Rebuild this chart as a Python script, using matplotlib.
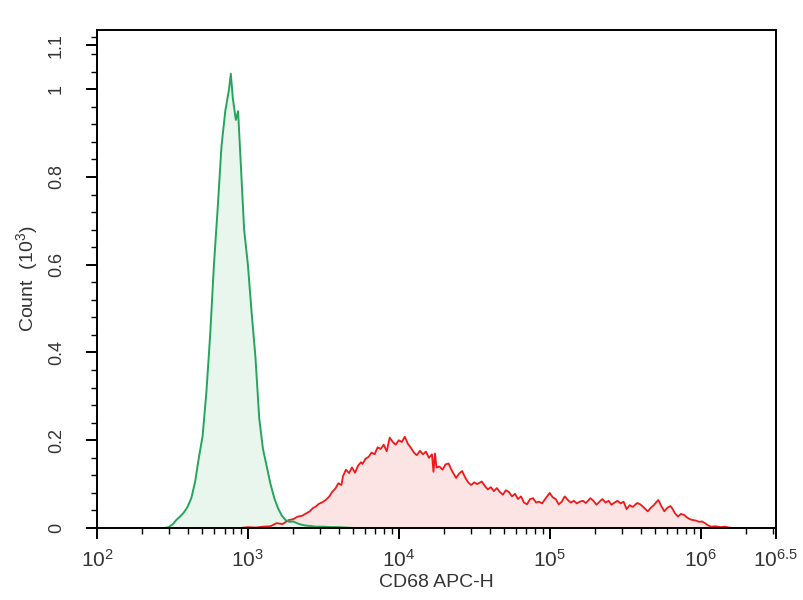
import numpy as np
import matplotlib.pyplot as plt
from matplotlib.ticker import FixedLocator, NullFormatter, MultipleLocator

plt.rcParams['font.family'] = ['Liberation Sans', 'DejaVu Sans']
plt.rcParams['mathtext.fontset'] = 'custom'
plt.rcParams['mathtext.rm'] = 'Liberation Sans'
plt.rcParams['mathtext.it'] = 'Liberation Sans:italic'

# isotype control (green), log10 of channel value vs count (x1000)
green_log = [2.45, 2.475, 2.50, 2.525, 2.55, 2.575, 2.60, 2.625, 2.65, 2.675,
             2.70, 2.725, 2.75, 2.775, 2.80, 2.825, 2.85, 2.875, 2.887, 2.90,
             2.92, 2.935, 2.95, 2.975, 3.00, 3.025, 3.05, 3.075, 3.10, 3.125,
             3.15, 3.175, 3.20, 3.225, 3.25, 3.275, 3.30, 3.325, 3.35, 3.375,
             3.40, 3.45, 3.50, 3.55, 3.60, 3.65, 3.70]
green_val = [0.0, 0.002, 0.008, 0.018, 0.026, 0.035, 0.048, 0.068, 0.105, 0.16,
             0.21, 0.31, 0.44, 0.60, 0.73, 0.87, 0.95, 1.00, 1.035, 0.98,
             0.93, 0.95, 0.85, 0.68, 0.60, 0.49, 0.39, 0.25, 0.18, 0.14,
             0.10, 0.068, 0.045, 0.028, 0.018, 0.014, 0.015, 0.011, 0.008, 0.006,
             0.005, 0.003, 0.003, 0.002, 0.002, 0.001, 0.0]

# CD68 stained sample (red)
red_log = [2.95, 3.00, 3.05, 3.10, 3.15, 3.19, 3.23, 3.27, 3.30, 3.33,
           3.36, 3.39, 3.41, 3.43, 3.45, 3.47, 3.49, 3.52, 3.54, 3.56,
           3.58, 3.60, 3.62, 3.63, 3.65, 3.67, 3.69, 3.71, 3.73, 3.75,
           3.76, 3.78, 3.80, 3.82, 3.84, 3.86, 3.88, 3.90, 3.92, 3.94,
           3.96, 3.98, 4.00, 4.02, 4.04, 4.06, 4.08, 4.10, 4.12, 4.14,
           4.16, 4.18, 4.20, 4.22, 4.23, 4.24, 4.25, 4.27, 4.29, 4.31,
           4.33, 4.35, 4.37, 4.38, 4.40, 4.42, 4.44, 4.46, 4.48, 4.50,
           4.52, 4.55, 4.57, 4.59, 4.61, 4.63, 4.65, 4.67, 4.69, 4.71,
           4.73, 4.75, 4.77, 4.79, 4.81, 4.83, 4.85, 4.87, 4.89, 4.91,
           4.93, 4.95, 4.97, 5.00, 5.02, 5.04, 5.06, 5.08, 5.10, 5.12,
           5.14, 5.16, 5.18, 5.20, 5.22, 5.24, 5.27, 5.29, 5.31, 5.33,
           5.35, 5.37, 5.39, 5.41, 5.43, 5.45, 5.47, 5.49, 5.51, 5.53,
           5.55, 5.58, 5.60, 5.62, 5.65, 5.67, 5.69, 5.71, 5.72, 5.74,
           5.76, 5.78, 5.80, 5.81, 5.83, 5.85, 5.87, 5.89, 5.91, 5.93,
           5.95, 5.97, 5.99, 6.01, 6.03, 6.05, 6.07, 6.10, 6.13, 6.16,
           6.19, 6.22]
red_val = [0.0, 0.002, 0.001, 0.003, 0.004, 0.011, 0.009, 0.018, 0.020, 0.026,
           0.028, 0.034, 0.038, 0.045, 0.049, 0.055, 0.058, 0.065, 0.072, 0.083,
           0.090, 0.102, 0.098, 0.118, 0.133, 0.125, 0.138, 0.126, 0.142, 0.150,
           0.146, 0.158, 0.162, 0.172, 0.168, 0.184, 0.180, 0.190, 0.175, 0.206,
           0.196, 0.190, 0.200, 0.196, 0.208, 0.192, 0.183, 0.172, 0.166, 0.176,
           0.168, 0.174, 0.160, 0.168, 0.128, 0.170, 0.138, 0.140, 0.133, 0.145,
           0.147, 0.132, 0.120, 0.114, 0.124, 0.130, 0.115, 0.104, 0.098, 0.104,
           0.100, 0.106, 0.096, 0.088, 0.093, 0.084, 0.091, 0.082, 0.076, 0.086,
           0.082, 0.072, 0.078, 0.066, 0.072, 0.058, 0.054, 0.066, 0.068, 0.058,
           0.060, 0.056, 0.066, 0.080, 0.070, 0.066, 0.054, 0.060, 0.072, 0.064,
           0.058, 0.062, 0.056, 0.060, 0.062, 0.057, 0.068, 0.062, 0.053, 0.060,
           0.066, 0.058, 0.062, 0.053, 0.058, 0.062, 0.056, 0.060, 0.043, 0.052,
           0.048, 0.057, 0.054, 0.048, 0.038, 0.046, 0.052, 0.060, 0.064, 0.050,
           0.038, 0.046, 0.050, 0.046, 0.034, 0.026, 0.032, 0.030, 0.024, 0.020,
           0.018, 0.017, 0.014, 0.015, 0.011, 0.006, 0.003, 0.004, 0.002, 0.003,
           0.001, 0.0]

xtick_exp = [2, 3, 4, 5, 6, 6.5]
xtick_labels = ['2', '3', '4', '5', '6', '6.5']
ytick_vals = [0, 0.2, 0.4, 0.6, 0.8, 1, 1.1]
ytick_labels = ['0', '0.2', '0.4', '0.6', '0.8', '1', '1.1']

fig = plt.figure(figsize=(8.04, 6), dpi=100)
ax = fig.add_axes([97 / 804, 72 / 600, 679 / 804, 498 / 600])

gx = 10 ** np.array(green_log)
rx = 10 ** np.array(red_log)
ax.fill_between(rx, red_val, 0, color='#fde4e4', lw=0)
ax.plot(rx, red_val, color='#f01818', lw=1.3)
ax.fill_between(gx, green_val, 0, color='#e6f5ec', lw=0, alpha=0.9)
ax.plot(gx, green_val, color='#25a55c', lw=1.4)

ax.set_xscale('log')
ax.set_xlim(10 ** 2, 10 ** 6.5)
ax.set_ylim(0, 1.135)

ax.xaxis.set_major_locator(FixedLocator([10 ** e for e in xtick_exp]))
ax.set_xticklabels([r'$\mathregular{10^{%s}}$' % s for s in xtick_labels])
minors = [m * 10 ** k for k in range(2, 7) for m in range(2, 10) if m * 10 ** k < 10 ** 6.5]
ax.xaxis.set_minor_locator(FixedLocator(minors))
ax.xaxis.set_minor_formatter(NullFormatter())

ax.set_yticks(ytick_vals)
ax.set_yticklabels(ytick_labels, rotation=90, va='center')
ax.yaxis.set_minor_locator(MultipleLocator(0.04))

ax.tick_params(axis='both', which='major', direction='out', length=8, width=1.4,
               colors='black')
ax.tick_params(axis='both', which='minor', direction='out', length=4.5, width=1)
ax.tick_params(axis='x', which='major', pad=7, labelsize=15, labelcolor='#333333')
ax.tick_params(axis='y', which='major', pad=15, labelsize=13, labelcolor='#333333')

for s in ax.spines.values():
    s.set_linewidth(1.4)

ax.set_xlabel('CD68 APC-H', fontsize=14, labelpad=2, color='#333333')
ax.set_ylabel(r'Count  $\mathregular{(10^{3})}$', fontsize=14, labelpad=6, color='#333333')

fig.savefig('out.png', dpi=100)
